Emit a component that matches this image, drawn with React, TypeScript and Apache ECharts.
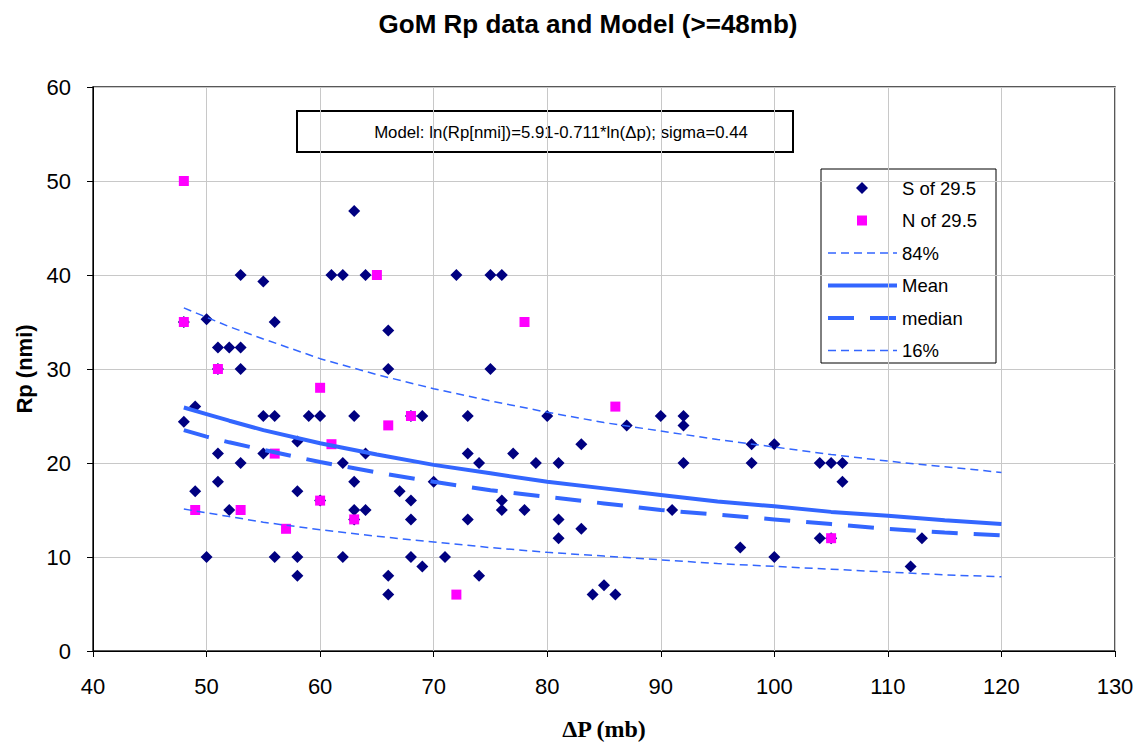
import React, { useEffect, useRef } from "react";
import * as echarts from "echarts";

const sPoints: number[][] = [
  [48, 35], [48, 24.4], [49, 26], [49, 17], [50, 35.3], [50, 10], [51, 32.3], [51, 30], [51, 21], [51, 18],
  [52, 32.3], [52, 15], [53, 40], [53, 32.3], [53, 30], [53, 20], [55, 39.3], [55, 25], [55, 21], [56, 35],
  [56, 25], [56, 10], [58, 22.3], [58, 17], [58, 10], [58, 8], [59, 25], [60, 25], [60, 16], [61, 40],
  [62, 40], [62, 20], [62, 10], [63, 46.8], [63, 25], [63, 18], [63, 15], [63, 14], [64, 40], [64, 21],
  [64, 15], [66, 34.1], [66, 30], [66, 8], [66, 6], [67, 17], [68, 25], [68, 16], [68, 14], [68, 10],
  [69, 25], [69, 9], [70, 18], [71, 10], [72, 40], [73, 25], [73, 21], [73, 14], [74, 20], [74, 8],
  [75, 40], [75, 30], [76, 40], [76, 16], [76, 15], [77, 21], [78, 15], [79, 20], [80, 25], [81, 20],
  [81, 14], [81, 12], [83, 22], [83, 13], [84, 6], [85, 7], [86, 6], [87, 24], [90, 25], [91, 15],
  [92, 25], [92, 24], [92, 20], [97, 11], [98, 22], [98, 20], [100, 22], [100, 10], [104, 20], [104, 12],
  [105, 20], [105, 12], [106, 20], [106, 18], [112, 9], [113, 12],
];

const nPoints: number[][] = [
  [48, 50], [48, 35], [49, 15], [51, 30], [53, 15], [56, 21], [57, 13], [60, 28], [60, 16], [61, 22],
  [63, 14], [65, 40], [66, 24], [68, 25], [72, 6], [78, 35], [86, 26], [105, 12],
];

const modelX: number[] = [48, 50, 52, 55, 60, 65, 70, 75, 80, 85, 90, 95, 100, 105, 110, 115, 120];
const p84: number[] = [36.5, 35.5, 34.5, 33.2, 31.1, 29.4, 27.9, 26.6, 25.4, 24.3, 23.4, 22.5, 21.7, 20.9, 20.2, 19.6, 19.0];
const meanY: number[] = [25.9, 25.2, 24.5, 23.5, 22.1, 20.9, 19.8, 18.9, 18.0, 17.3, 16.6, 15.9, 15.4, 14.8, 14.4, 13.9, 13.5];
const medianY: number[] = [23.5, 22.8, 22.2, 21.4, 20.1, 19.0, 18.0, 17.1, 16.4, 15.7, 15.0, 14.5, 14.0, 13.5, 13.0, 12.6, 12.3];
const p16: number[] = [15.1, 14.7, 14.3, 13.7, 12.9, 12.2, 11.6, 11.0, 10.5, 10.1, 9.7, 9.3, 9.0, 8.7, 8.4, 8.1, 7.9];

const legendNames = ["S of 29.5", "N of 29.5", "84%", "Mean", "median", "16%"];

const FONT = '"Liberation Sans", Arial, sans-serif';
const LINE_COLOR = "#3366ff";
const S_COLOR = "#000080";
const N_COLOR = "#ff00ff";

const lineStyles: Record<string, { width: number; dash: number[] | null }> = {
  "84%": { width: 1.5, dash: [8, 5] },
  Mean: { width: 4, dash: null },
  median: { width: 4, dash: [26, 16] },
  "16%": { width: 1.5, dash: [8, 5] },
};

const zip = (xs: number[], ys: number[]) => xs.map((x, i) => [x, ys[i]]);

function buildLegend() {
  const boxX = 821;
  const boxY = 169;
  const boxW = 175;
  const boxH = 194;
  const rowTop = 188;
  const rowStep = 32.5;
  const children: any[] = [
    {
      type: "rect",
      shape: { x: boxX, y: boxY, width: boxW, height: boxH },
      style: { fill: "#fff", stroke: "#000", lineWidth: 1 },
    },
  ];
  legendNames.forEach((name, i) => {
    const cy = rowTop + i * rowStep;
    if (name === "S of 29.5") {
      children.push({
        type: "polygon",
        shape: { points: [[862, cy - 6], [868, cy], [862, cy + 6], [856, cy]] },
        style: { fill: S_COLOR },
      });
    } else if (name === "N of 29.5") {
      children.push({
        type: "rect",
        shape: { x: 857, y: cy - 5, width: 10, height: 10 },
        style: { fill: N_COLOR },
      });
    } else {
      const ls = lineStyles[name];
      children.push({
        type: "line",
        shape: { x1: 828, y1: cy, x2: 897, y2: cy },
        style: { stroke: LINE_COLOR, lineWidth: ls.width, lineDash: ls.dash || undefined },
      });
    }
    children.push({
      type: "text",
      x: 902,
      y: cy,
      style: {
        text: name,
        fontFamily: FONT,
        fontSize: 18.5,
        fill: "#000",
        align: "left",
        verticalAlign: "middle",
      },
    });
  });
  return { type: "group", z: 100, children };
}

export default function App() {
  const ref = useRef<HTMLDivElement>(null);
  useEffect(() => {
    if (!ref.current) return;
    const chart = echarts.init(ref.current, undefined, { renderer: "svg" });
    chart.setOption({
      animation: false,
      backgroundColor: "#ffffff",
      title: {
        text: "GoM Rp data and Model (>=48mb)",
        left: 583,
        textAlign: "center",
        top: 6,
        textStyle: { fontFamily: FONT, fontWeight: "bold", fontSize: 26, color: "#000" },
      },
      grid: {
        left: 93,
        right: 26,
        top: 87,
        bottom: 94,
        show: true,
        borderColor: "#222",
        borderWidth: 1.5,
        backgroundColor: "transparent",
      },
      xAxis: {
        type: "value",
        min: 40,
        max: 130,
        interval: 10,
        name: "ΔP (mb)",
        nameLocation: "middle",
        nameGap: 66,
        nameTextStyle: { fontFamily: '"Liberation Serif", "Times New Roman", serif', fontWeight: "bold", fontSize: 24, color: "#000" },
        axisLine: { show: true, onZero: false, lineStyle: { color: "#000", width: 1 } },
        axisTick: { show: true, length: 6, lineStyle: { color: "#000" } },
        axisLabel: { fontFamily: FONT, fontSize: 22, color: "#000", margin: 24 },
        splitLine: { show: true, lineStyle: { color: "#c8c8c8", width: 1 } },
      },
      yAxis: {
        type: "value",
        min: 0,
        max: 60,
        interval: 10,
        name: "Rp (nmi)",
        nameLocation: "middle",
        nameGap: 54,
        nameRotate: 90,
        nameTextStyle: { fontFamily: FONT, fontWeight: "bold", fontSize: 22, color: "#000" },
        axisLine: { show: true, onZero: false, lineStyle: { color: "#000", width: 1 } },
        axisTick: { show: true, length: 6, lineStyle: { color: "#000" } },
        axisLabel: { fontFamily: FONT, fontSize: 22, color: "#000", margin: 22 },
        splitLine: { show: true, lineStyle: { color: "#c8c8c8", width: 1 } },
      },
      graphic: [
        {
          type: "group",
          z: 100,
          children: [
            {
              type: "rect",
              shape: { x: 297, y: 111, width: 496, height: 41 },
              style: { fill: "#fff", stroke: "#000", lineWidth: 2 },
            },
            {
              type: "text",
              x: 561,
              y: 132,
              style: {
                text: "Model: ln(Rp[nmi])=5.91-0.711*ln(Δp); sigma=0.44",
                fontFamily: FONT,
                fontSize: 16.8,
                fill: "#000",
                align: "center",
                verticalAlign: "middle",
              },
            },
          ],
        },
        buildLegend(),
      ],
      series: [
        ...["84%", "Mean", "median", "16%"].map((name) => {
          const ys = name === "84%" ? p84 : name === "Mean" ? meanY : name === "median" ? medianY : p16;
          const ls = lineStyles[name];
          return {
            name,
            type: "line",
            data: zip(modelX, ys),
            symbol: "none",
            silent: true,
            lineStyle: { color: LINE_COLOR, width: ls.width, type: ls.dash || "solid" },
            itemStyle: { color: LINE_COLOR },
          };
        }),
        {
          name: "S of 29.5",
          type: "scatter",
          data: sPoints,
          symbol: "diamond",
          symbolSize: 12,
          itemStyle: { color: S_COLOR, opacity: 1 },
        },
        {
          name: "N of 29.5",
          type: "scatter",
          data: nPoints,
          symbol: "rect",
          symbolSize: 10,
          itemStyle: { color: N_COLOR, opacity: 1 },
        },
      ],
    });
    return () => chart.dispose();
  }, []);
  return (
    <div
      ref={ref}
      style={{ position: "fixed", left: 0, top: 0, width: 1141, height: 746 }}
    />
  );
}
